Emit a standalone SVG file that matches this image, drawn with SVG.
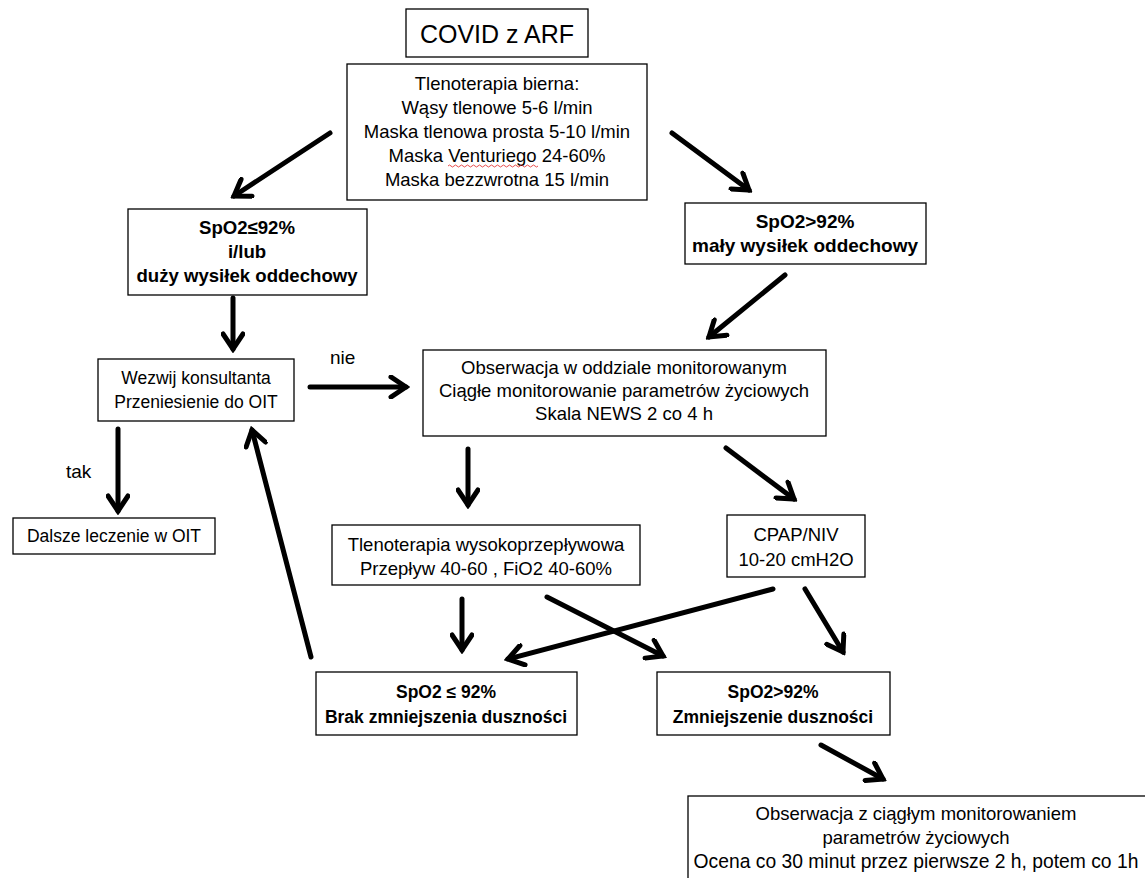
<svg xmlns="http://www.w3.org/2000/svg" width="1145" height="878" viewBox="0 0 1145 878">
<style>
.box{fill:#fff;stroke:#000;stroke-width:1.3}
text{font-family:"Liberation Sans",Arial,sans-serif;font-size:18.5px;fill:#000;text-anchor:middle}
.b{font-weight:bold;font-size:17.5px}
.t{font-size:25px}
.s{font-size:17.5px}
.lbl{text-anchor:start;font-size:19px}
.arr{fill:none;stroke:#000;stroke-width:5;stroke-linecap:round;marker-end:url(#h)}
</style>
<defs>
<marker id="h" markerUnits="userSpaceOnUse" viewBox="-20 -12 24 24" markerWidth="24" markerHeight="24" refX="0" refY="0" orient="auto">
<polyline points="-15,-10 0,0 -15,10" fill="none" stroke="#000" stroke-width="5" stroke-linecap="round" stroke-linejoin="miter"/>
</marker>
</defs>
<rect width="1145" height="878" fill="#fff"/>
<g id="connectors">
<line class="arr" x1="330" y1="133" x2="234" y2="196"/>
<line class="arr" x1="672" y1="133" x2="749" y2="190"/>
<line class="arr" x1="785" y1="275" x2="709" y2="337"/>
<line class="arr" x1="233" y1="298" x2="233" y2="349"/>
<line class="arr" x1="310" y1="387" x2="406" y2="387"/>
<line class="arr" x1="118" y1="429" x2="118" y2="511"/>
<line class="arr" x1="311" y1="657" x2="252" y2="430"/>
<line class="arr" x1="468" y1="449" x2="468" y2="505"/>
<line class="arr" x1="726" y1="448" x2="794" y2="499"/>
<line class="arr" x1="462" y1="599" x2="462" y2="650"/>
<line class="arr" x1="547" y1="597" x2="663" y2="656"/>
<line class="arr" x1="773" y1="589" x2="508" y2="659"/>
<line class="arr" x1="805" y1="589" x2="843" y2="652"/>
<line class="arr" x1="821" y1="745" x2="883" y2="779"/>
</g>
<g id="labels">
<text class="lbl" x="330" y="364">nie</text>
<text class="lbl" x="66" y="478">tak</text>
</g>
<g id="n-title"><rect class="box" x="406" y="9" width="182" height="48"/><text class="t" x="497" y="43">COVID z ARF</text></g>
<g id="n-bierna"><rect class="box" x="347" y="64" width="300" height="136"/>
<text x="497" y="90">Tlenoterapia bierna:</text>
<text x="497" y="114">Wąsy tlenowe 5-6 l/min</text>
<text x="497" y="138">Maska tlenowa prosta 5-10 l/min</text>
<text x="497" y="162">Maska Venturiego 24-60%</text>
<text x="497" y="186">Maska bezzwrotna 15 l/min</text>
<path d="M448,166 q1.5,-2 3,0 t3,0 t3,0 t3,0 t3,0 t3,0 t3,0 t3,0 t3,0 t3,0 t3,0 t3,0 t3,0 t3,0 t3,0 t3,0 t3,0 t3,0 t3,0 t3,0 t3,0 t3,0 t3,0 t3,0 t3,0 t3,0 t3,0 t3,0 t3,0 t3,0" fill="none" stroke="#e02020" stroke-width="0.8"/>
</g>
<g id="n-low"><rect class="box" x="128" y="209" width="239" height="86"/>
<text class="b" x="247" y="234" style="font-size:18.6px">SpO2≤92%</text>
<text class="b" x="247" y="258" style="font-size:18.6px">i/lub</text>
<text class="b" x="247" y="282" style="font-size:18.6px">duży wysiłek oddechowy</text>
</g>
<g id="n-high"><rect class="box" x="685" y="203" width="241" height="61"/>
<text class="b" x="805" y="228" style="font-size:19px">SpO2&gt;92%</text>
<text class="b" x="805" y="252" style="font-size:19px">mały wysiłek oddechowy</text>
</g>
<g id="n-wezwij"><rect class="box" x="98" y="359" width="196" height="62"/>
<text class="s" x="196" y="384">Wezwij konsultanta</text>
<text class="s" x="196" y="408">Przeniesienie do OIT</text>
</g>
<g id="n-obs"><rect class="box" x="423" y="350" width="403" height="86"/>
<text x="624" y="374">Obserwacja w oddziale monitorowanym</text>
<text x="624" y="397">Ciągłe monitorowanie parametrów życiowych</text>
<text x="624" y="420">Skala NEWS 2 co 4 h</text>
</g>
<g id="n-dalsze"><rect class="box" x="13" y="518" width="202" height="36"/>
<text class="s" x="114" y="542">Dalsze leczenie w OIT</text>
</g>
<g id="n-hfno"><rect class="box" x="332" y="525" width="308" height="60"/>
<text x="486" y="551">Tlenoterapia wysokoprzepływowa</text>
<text x="486" y="575">Przepływ 40-60 , FiO2 40-60%</text>
</g>
<g id="n-cpap"><rect class="box" x="727" y="515" width="138" height="62"/>
<text x="796" y="541">CPAP/NIV</text>
<text x="796" y="566">10-20 cmH2O</text>
</g>
<g id="n-brak"><rect class="box" x="316" y="672" width="261" height="63"/>
<text class="b" x="446" y="698">SpO2 ≤ 92%</text>
<text class="b" x="446" y="723">Brak zmniejszenia duszności</text>
</g>
<g id="n-zmn"><rect class="box" x="657" y="672" width="233" height="63"/>
<text class="b" x="773" y="698">SpO2&gt;92%</text>
<text class="b" x="773" y="723">Zmniejszenie duszności</text>
</g>
<g id="n-final"><rect class="box" x="688" y="796" width="470" height="90"/>
<text x="916" y="820">Obserwacja z ciągłym monitorowaniem</text>
<text x="916" y="844">parametrów życiowych</text>
<text x="916" y="868" style="font-size:19.3px">Ocena co 30 minut przez pierwsze 2 h, potem co 1h</text>
</g>
</svg>
